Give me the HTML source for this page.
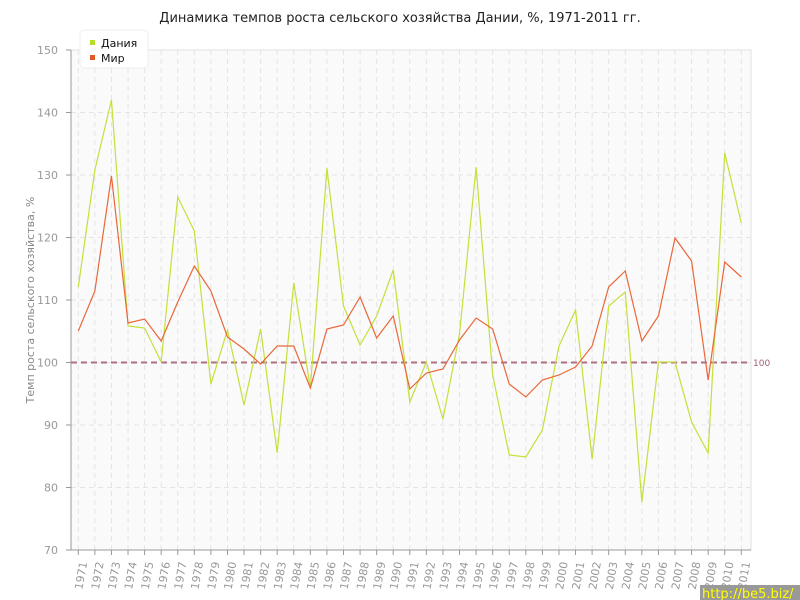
<!DOCTYPE html>
<html><head><meta charset="utf-8"><style>body{margin:0;background:#fff}svg{display:block;font-family:"DejaVu Sans","Liberation Sans",sans-serif}</style></head><body>
<svg width="800" height="600" xmlns="http://www.w3.org/2000/svg">
<rect width="800" height="600" fill="#fff"/>
<text x="400" y="22" text-anchor="middle" font-size="13" fill="#222">Динамика темпов роста сельского хозяйства Дании, %, 1971-2011 гг.</text>
<rect x="71" y="50" width="680" height="500" fill="#fafafa" stroke="#e2e2e2"/>
<g id="g" stroke="#e4e4e4" stroke-dasharray="5,4" fill="none"></g>
<line x1="71" y1="50" x2="71" y2="550" stroke="#999"/>
<line x1="71" y1="550" x2="751" y2="550" stroke="#999"/>
<g id="yl" font-size="11" fill="#999" text-anchor="end"></g>
<text transform="translate(34,300) rotate(-90)" text-anchor="middle" font-size="11" fill="#888">Темп роста сельского хозяйства, %</text>
<line x1="71" y1="362.5" x2="751" y2="362.5" stroke="#b07080" stroke-width="2" stroke-dasharray="6,4"/>
<text x="753" y="366" font-size="9" fill="#a06070">100</text>
<polyline id="dk" fill="none" stroke="#c4e03a" stroke-width="1.2"/>
<polyline id="w" fill="none" stroke="#e8683a" stroke-width="1.2"/>
<g id="xl" font-size="11" fill="#999"></g>
<rect x="80" y="30" width="68" height="38" rx="4" fill="#fff" stroke="#eee"/>
<rect x="90" y="40" width="5" height="5" fill="#b8dc2a"/>
<text x="101" y="47" font-size="11" fill="#111">Дания</text>
<rect x="90" y="55" width="5" height="5" fill="#e05a28"/>
<text x="101" y="62" font-size="11" fill="#111">Мир</text>
<rect x="700" y="585" width="100" height="15" fill="#999"/>
<text x="702" y="598" font-size="13" fill="#ff0">http://be5.biz/</text>
</svg>
<script>
const ns="http://www.w3.org/2000/svg";
const X=i=>78.3+i*16.575;
const dk=[287,170,100,326,328,362,197,231,384,330,405,329,453,283,388,168,306,345,316,270,402,362,419,334,167,375,455,457,430,346,310,459,306,292,502,362,362,422,453,153,223];
const w=[331,291,176,323,319,341,302,266,291,337,349,364,346,346,388,329,325,297,338,316,389,373,369,340,318,329,384,397,380,375,367,346,287,271,341,316,238,261,380,262,277];
document.getElementById('dk').setAttribute('points',dk.map((y,i)=>X(i)+','+y).join(' '));
document.getElementById('w').setAttribute('points',w.map((y,i)=>X(i)+','+y).join(' '));
const g=document.getElementById('g'),yl=document.getElementById('yl'),xl=document.getElementById('xl');
for(let v=70;v<=150;v+=10){const y=550-(v-70)*6.25;
 if(v>70&&v<150){const l=document.createElementNS(ns,'line');l.setAttribute('x1',71);l.setAttribute('x2',751);l.setAttribute('y1',y);l.setAttribute('y2',y);g.appendChild(l);}
 const t=document.createElementNS(ns,'text');t.setAttribute('x',58);t.setAttribute('y',y+4);t.textContent=v;yl.appendChild(t);
 const k=document.createElementNS(ns,'line');k.setAttribute('x1',66);k.setAttribute('x2',71);k.setAttribute('y1',y);k.setAttribute('y2',y);k.setAttribute('stroke','#999');k.setAttribute('stroke-dasharray','none');g.appendChild(k);}
for(let i=0;i<41;i++){const x=X(i);
 const l=document.createElementNS(ns,'line');l.setAttribute('x1',x);l.setAttribute('x2',x);l.setAttribute('y1',50);l.setAttribute('y2',550);g.appendChild(l);
 const k=document.createElementNS(ns,'line');k.setAttribute('x1',x);k.setAttribute('x2',x);k.setAttribute('y1',550);k.setAttribute('y2',555);k.setAttribute('stroke','#999');k.setAttribute('stroke-dasharray','none');g.appendChild(k);
 const t=document.createElementNS(ns,'text');t.setAttribute('transform',`translate(${x+4},${590}) rotate(-80)`);t.textContent=1971+i;xl.appendChild(t);}
</script>
</body></html>
